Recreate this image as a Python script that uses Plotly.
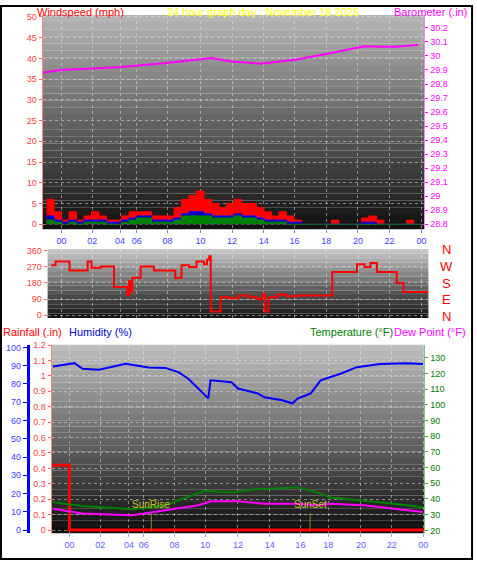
import plotly.graph_objects as go

# %% data (x = hours)

hours = [-1, -0.5, 0, 0.5, 1, 1.5, 2, 2.5, 3, 3.5,
         4, 4.5, 5, 5.5, 6, 6.5, 7, 7.5, 8, 8.5,
         9, 9.5, 10, 10.5, 11, 11.5, 12, 12.5, 13, 13.5,
         14, 14.5, 15, 15.5, 16, 16.5, 17, 17.5, 18, 18.5,
         19, 19.5, 20, 20.5, 21, 21.5, 22, 22.5, 23, 23.5,
         24]
gust = [6, 3, 1, 3, 1, 2, 3, 2, 1, 1,
        2, 3, 3, 3, 2, 2, 2, 4, 6, 7,
        8, 6, 5, 4, 5, 6, 5, 5, 4, 3,
        2, 3, 2, 1, 0, 0, 0, 0, 1, 0,
        0, 0, 1.5, 2, 1, 0, 0, 0, 1, 0,
        0]
wind_avg = [2, 1, 0.5, 1, 0.5, 1, 1, 1, 0.5, 0.5,
            1, 1.5, 2, 2, 1, 1, 1, 1.5, 2.5, 3,
            3, 2.5, 2, 2, 2, 2.5, 2, 2, 1.5, 1,
            1, 1, 0.5, 0.5, 0, 0, 0, 0, 0, 0,
            0, 0, 0.5, 0.5, 0, 0, 0, 0, 0, 0,
            0]
wind_low = [1, 0.5, 0, 0.5, 0, 0.5, 0.5, 0.5, 0, 0,
            0.5, 1, 1.5, 1.5, 0.5, 0.5, 0.5, 1, 2, 2,
            2, 2, 1.5, 1.5, 1.5, 2, 1.5, 1.5, 1, 0.5,
            0.5, 0.5, 0, 0, 0, 0, 0, 0, 0, 0,
            0, 0, 0, 0, 0, 0, 0, 0, 0, 0,
            0]

baro_hours = [-1.26, -0.1, 3.8, 7.0, 10.0, 11.3, 13.3, 15.7, 17.9, 20.2, 21.2, 22.3, 23.8]
baro = [29.88, 29.9, 29.92, 29.95, 29.985, 29.96, 29.945, 29.975, 30.02, 30.07, 30.065, 30.065, 30.08]

dir_hours = [-0.68, -0.4, 0.53, 1.74, 2.0, 2.62, 3.5, 4.2, 4.39, 4.5, 4.6, 4.72,
             5.27, 6.15, 7.3, 7.58, 8.0, 8.5, 9.0, 9.5, 9.7, 9.85,
             9.95, 10.6, 11.2, 11.8, 12.5, 13.0, 13.4, 13.55, 13.8, 14.4, 15.0, 15.7,
             18.05, 19.7, 20.2, 20.6, 21.03, 22.35, 22.8, 24.46]
dir_deg = [280, 300, 250, 300, 265, 273, 157, 157, 110, 190, 130, 210,
           273, 250, 250, 210, 280, 270, 300, 285, 310, 330,
           20, 100, 95, 110, 100, 90, 120, 20, 100, 115, 105, 110,
           242, 285, 270, 292, 242, 180, 130, 130]

env_hours = [-0.57, 0.86, 1.41, 2.51, 4.27, 5.82, 6.92, 7.8, 8.46, 9.12, 9.79, 9.94,
             11.33, 11.77, 13.09, 13.53, 14.64, 15.41, 15.74, 16.62, 17.28, 18.6,
             19.7, 21.25, 23.01, 24.11]
humidity = [89.6, 91.4, 88.3, 87.8, 91, 89, 88.8, 86.5, 82.9, 77.5, 72.1, 82,
            81, 77.5, 74.8, 72.7, 71.2, 69.4, 72, 74.8, 82, 85.6,
            89.2, 91, 91.4, 91]

temp_hours = [-0.57, 1.41, 4.72, 6.92, 8.02, 9.56, 11.33, 13.09, 15.74, 17.06, 17.94, 20.14, 22.35, 24.11]
temperature = [38, 35.5, 33.4, 36, 40, 45.3, 44.2, 46.3, 47.4, 44.2, 41, 39, 36.8, 34.7]
dew_hours = [-0.57, 1.41, 4.72, 6.92, 9.12, 10.0, 11.77, 13.53, 15.74, 17.06, 17.94, 20.14, 22.35, 24.11]
dew_point = [33.8, 30.7, 29.6, 32.8, 36, 38.5, 38.5, 37, 37, 36, 37, 36, 33.8, 31.7]

rain_hours = [-0.66, 0.53, 0.53, 24.2]
rainfall = [0.42, 0.42, 0, 0]

sun_hours = [5.99, 16.58]
sun_labels = ["SunRise", "SunSet"]

top_ticks = [0, 2.05, 3.9, 5.02, 7.07, 9.26, 11.37, 13.49, 15.54, 17.65, 19.77, 21.88, 24]
bot_ticks = [0.53, 2.58, 4.5, 5.49, 7.54, 9.59, 11.77, 13.88, 15.93, 17.79, 19.97, 22.02, 24.13]
tick_text = ["00", "02", "04", "06", "08", "10", "12", "14", "16", "18", "20", "22", "00"]

W, H = 477, 562
FONT = "Liberation Sans"
RED, MAG, BLUE, GREEN = "#ff0000", "#ff00ff", "#2020ff", "#008000"


def px_x(a, b):
    return [a / W, b / W]


def px_y(top, bottom):
    return [1 - bottom / H, 1 - top / H]


fig = go.Figure()

# %% top panel: wind + barometer
fig.add_trace(go.Scatter(x=hours, y=gust, mode="lines", line=dict(color=RED, width=1, shape="hv"),
                         fill="tozeroy", fillcolor=RED, xaxis="x", yaxis="y"))
fig.add_trace(go.Scatter(x=hours, y=wind_avg, mode="lines", line=dict(color="#0000ff", width=1, shape="hv"),
                         fill="tozeroy", fillcolor="#0000c0", xaxis="x", yaxis="y"))
fig.add_trace(go.Scatter(x=hours, y=wind_low, mode="lines", line=dict(color="#008000", width=1, shape="hv"),
                         fill="tozeroy", fillcolor="#008000", xaxis="x", yaxis="y"))
fig.add_trace(go.Scatter(x=baro_hours, y=baro, mode="lines", line=dict(color=MAG, width=2),
                         xaxis="x", yaxis="y2"))

# %% middle panel: wind direction
fig.add_trace(go.Scatter(x=dir_hours, y=dir_deg, mode="lines", line=dict(color=RED, width=2, shape="hv"),
                         xaxis="x2", yaxis="y3"))

# %% bottom panel
fig.add_trace(go.Scatter(x=rain_hours, y=rainfall, mode="lines", line=dict(color=RED, width=3),
                         xaxis="x3", yaxis="y4"))
fig.add_trace(go.Scatter(x=env_hours, y=humidity, mode="lines", line=dict(color="#0000ff", width=2),
                         xaxis="x3", yaxis="y5"))
fig.add_trace(go.Scatter(x=temp_hours, y=temperature, mode="lines", line=dict(color=GREEN, width=2),
                         xaxis="x3", yaxis="y6"))
fig.add_trace(go.Scatter(x=dew_hours, y=dew_point, mode="lines", line=dict(color=MAG, width=2),
                         xaxis="x3", yaxis="y6"))
for h, lab in zip(sun_hours, sun_labels):
    fig.add_trace(go.Scatter(x=[h, h], y=[20, 31], mode="lines",
                             line=dict(color="#8a8a20", width=1), xaxis="x3", yaxis="y6"))
    fig.add_annotation(x=h, y=31.5, xref="x3", yref="y6", text=lab, showarrow=False,
                       yanchor="bottom", font=dict(color="#c8c832", size=10, family=FONT))

# gradient backgrounds
shapes = []
for ref, n, light, dark in [("x", 30, 180, 18), ("x2", 15, 195, 25), ("x3", 30, 190, 15)]:
    yref = {"x": "y", "x2": "y3", "x3": "y4"}[ref]
    for i in range(n):
        g = int(light + (dark - light) * i / (n - 1))
        shapes.append(dict(type="rect", xref=ref + " domain", yref=yref + " domain",
                           x0=0, x1=1, y0=1 - (i + 1) / n, y1=1 - i / n,
                           fillcolor=f"rgb({g},{g},{g})", line_width=0, layer="below"))
shapes.append(dict(type="rect", xref="paper", yref="paper", x0=0.002, x1=0.998, y0=0.002, y1=0.998,
                   line=dict(color="black", width=2)))

grid = dict(showgrid=True, gridcolor="rgba(230,230,230,0.5)", griddash="dot", gridwidth=1,
            zeroline=False)
tickf = dict(size=9, family=FONT)

fig.update_layout(
    width=W, height=H, margin=dict(l=0, r=0, t=0, b=0),
    paper_bgcolor="white", plot_bgcolor="rgba(0,0,0,0)", showlegend=False,
    shapes=shapes,
    xaxis=dict(domain=px_x(43, 428), range=[-1.26, 24.2], tickvals=top_ticks, ticktext=tick_text,
               tickfont=dict(color="#4040ff", **tickf), ticks="outside", ticklen=3,
               tickcolor="#8080ff", anchor="y", **grid),
    yaxis=dict(domain=px_y(10, 227), range=[-1.19, 50.5], dtick=5, anchor="x",
               tickfont=dict(color="#ff4040", **tickf), ticks="outside", ticklen=3,
               tickcolor="#ff6060", showline=True, linecolor="#ff8080", **grid),
    yaxis2=dict(range=[28.765, 30.293], dtick=0.1, overlaying="y", side="right", anchor="x",
                tickfont=dict(color=MAG, **tickf), ticks="outside", ticklen=3, tickcolor=MAG,
                showline=True, linecolor="#ff80ff", showgrid=False, zeroline=False),
    xaxis2=dict(domain=px_x(48, 432), range=[-0.93, 24.46], tickvals=top_ticks,
                showticklabels=False, anchor="y3", **grid),
    yaxis3=dict(domain=px_y(247, 317), range=[-16.6, 371], tickvals=[0, 90, 180, 270, 360],
                anchor="x2", tickfont=dict(color="#ff4040", **tickf), ticks="outside",
                ticklen=3, tickcolor="#ff6060", **grid),
    xaxis3=dict(domain=px_x(52, 428), range=[-0.66, 24.2], tickvals=bot_ticks, ticktext=tick_text,
                tickfont=dict(color="#6060ff", **tickf), ticks="outside", ticklen=3,
                tickcolor="#a0a0ff", anchor="y4", **grid),
    yaxis4=dict(domain=px_y(344, 535), range=[-0.021, 1.202], dtick=0.1, anchor="x3",
                tickfont=dict(color="#ff4040", **tickf), ticks="outside", ticklen=3,
                tickcolor="#ff6060", showline=True, linecolor="#ff8080", **grid),
    yaxis5=dict(range=[-1.8, 101.5], dtick=10, overlaying="y4", side="left", anchor="free",
                position=28 / W, tickfont=dict(color="#4040ff", **tickf), ticks="outside",
                ticklen=4, tickcolor="#0000ff", showline=True, linecolor="#0000ff", linewidth=3,
                showgrid=False, zeroline=False),
    yaxis6=dict(range=[18.1, 138.4], dtick=10, overlaying="y4", side="right", anchor="x3",
                tickfont=dict(color=GREEN, **tickf), ticks="outside", ticklen=3,
                tickcolor="#40a040", showline=True, linecolor="#80c080", showgrid=False,
                zeroline=False),
)


# titles
def label(x, y, text, color, anchor="left", size=11):
    fig.add_annotation(x=x / W, y=1 - y / H, xref="paper", yref="paper", text=text,
                       showarrow=False, xanchor=anchor, yanchor="middle",
                       font=dict(color=color, size=size, family=FONT))


label(35, 7, "Windspeed (mph)", RED)
label(265, 7, "24 hour graph day : November 18 2025", "#ffff00", "center")
label(473, 7, "Barometer (.in)", MAG, "right")
label(1, 331, "Rainfall (.in)", RED)
label(68, 331, "Humidity (%)", "#0000e0")
label(398, 331, "Temperature (°F)", GREEN, "right")
label(472, 331, "Dew Point (°F)", MAG, "right")
for y, t in zip([248, 265, 282, 298, 315], ["N", "W", "S", "E", "N"]):
    label(450, y, t, RED, "center", 13)

# the page has an 8px body margin by default; remove it so the figure fills the window
fig.write_html("out.html", config={"displayModeBar": False},
               post_script="document.body.style.margin='0';")
